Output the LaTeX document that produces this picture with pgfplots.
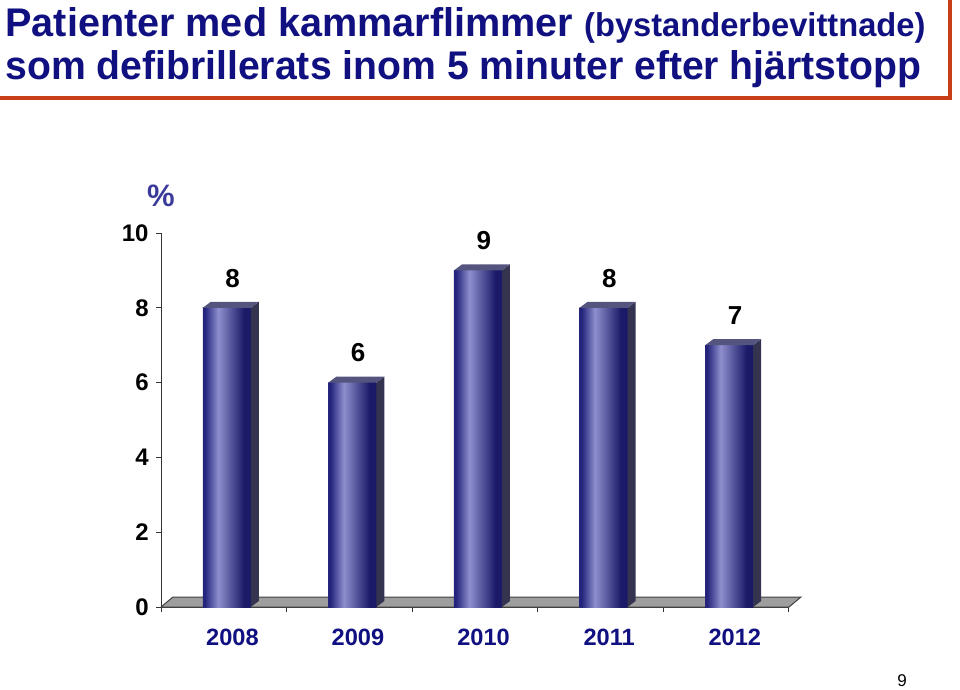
\documentclass[border=0pt]{standalone}
\usepackage{pgfplots}
\pgfplotsset{compat=1.18}
\usepackage{pgfplotstable}
\usepackage{fontspec}
\setmainfont{Liberation Sans}
\usepackage{graphicx}
\definecolor{titleblue}{RGB}{16,16,128}
\definecolor{pctblue}{RGB}{58,58,155}
\definecolor{framered}{RGB}{200,62,22}
\definecolor{barL}{RGB}{36,36,124}
\definecolor{barM}{RGB}{142,142,206}
\definecolor{barR}{RGB}{26,26,104}
\definecolor{sidec}{RGB}{52,52,80}
\definecolor{topc}{RGB}{84,84,126}
\definecolor{floorc}{RGB}{158,158,158}
\pgfdeclarehorizontalshading{barshade}{100bp}{color(0bp)=(barL); color(25bp)=(barL); color(27bp)=(barL); color(41bp)=(barM); color(68bp)=(barR); color(100bp)=(barR)}
\pgfdeclareplotmark{box3d}{%
  \pgfmathsetlengthmacro\hh{\rawy*18.7}%
  \pgfpathmoveto{\pgfqpoint{13.5pt}{0pt}}%
  \pgfpathlineto{\pgfqpoint{17.5pt}{3pt}}%
  \pgfpathlineto{\pgfpoint{17.5pt}{3pt-\hh}}%
  \pgfpathlineto{\pgfpoint{13.5pt}{-\hh}}%
  \pgfpathclose
  \pgfsetfillcolor{sidec}\pgfusepath{fill}%
  \pgfpathmoveto{\pgfqpoint{-10.5pt}{0pt}}%
  \pgfpathlineto{\pgfqpoint{13.5pt}{0pt}}%
  \pgfpathlineto{\pgfqpoint{17.5pt}{3pt}}%
  \pgfpathlineto{\pgfqpoint{-6.5pt}{3pt}}%
  \pgfpathclose
  \pgfsetfillcolor{topc}\pgfusepath{fill}%
}
\pgfplotstableread{
x v
0 8
1 6
2 9
3 8
4 7
}\data
\begin{document}
\begin{tikzpicture}
\path[use as bounding box] (0pt,0pt) rectangle (480pt,-345pt);
% title
\node[anchor=base west, inner sep=0, text=titleblue] at (2.5pt,-18.5pt)
  {\resizebox{460pt}{\height}{\fontsize{20}{24}\selectfont\bfseries Patienter med kammarflimmer {\fontsize{16.5}{20}\selectfont(bystanderbevittnade)}}};
\node[anchor=base west, inner sep=0, text=titleblue] at (2.5pt,-40pt)
  {\resizebox{458pt}{\height}{\fontsize{20}{24}\selectfont\bfseries som defibrillerats inom 5 minuter efter hjärtstopp}};
\draw[framered, line width=2pt, line join=miter] (0pt,-49.25pt) -- (475pt,-49.25pt) -- (475pt,0pt);
\node[text=pctblue, font=\fontsize{15.5}{18}\selectfont\bfseries, inner sep=0] at (80.5pt,-98pt) {\%};
\node[font=\fontsize{8.5}{10}\selectfont, inner sep=0] at (451pt,-340.5pt) {9};
\begin{axis}[
  at={(80.5pt,-303.5pt)}, anchor=south west,
  scale only axis, width=314pt, height=187pt,
  xmin=-0.5, xmax=4.5, ymin=0, ymax=10,
  axis lines*=left,
  axis line style={black!80, line width=0.5pt},
  clip=false,
  /pgf/number format/assume math mode=true,
  ytick={0,2,4,6,8,10},
  xtick={-0.5,0.5,1.5,2.5,3.5,4.5}, xticklabels={},
  extra x ticks={0,1,2,3,4},
  extra x tick labels={2008,2009,2010,2011,2012},
  extra x tick style={major tick length=0pt,
    tick label style={inner sep=0pt, anchor=north, yshift=-11pt, xshift=4.3pt, text=titleblue,
      font=\fontsize{11.8}{14}\selectfont\bfseries}},
  tick align=outside, major tick length=2.5pt,
  tick style={black!80, line width=0.5pt},
  yticklabel style={font=\fontsize{12}{14}\selectfont\bfseries, inner sep=0pt, xshift=-3.5pt},
  bar style/.style={ybar, bar width=24pt, bar shift=1.5pt, shading=barshade, draw=none,
    nodes near coords,
    nodes near coords style={font=\fontsize{13}{15}\selectfont\bfseries, text=black, anchor=south, inner sep=0pt, yshift=10pt, xshift=4.4pt}},
]
\addplot[fill=floorc, draw=black!75, line width=0.5pt] coordinates {(-0.5,0) (4.5,0) (4.5955,0.267) (-0.4045,0.267) (-0.5,0)};
\addplot[bar style, restrict x to domain=-0.5:0.5] table[x=x, y=v] {\data};
\addplot[bar style, restrict x to domain=0.5:1.5] table[x=x, y=v] {\data};
\addplot[bar style, restrict x to domain=1.5:2.5] table[x=x, y=v] {\data};
\addplot[bar style, restrict x to domain=2.5:3.5] table[x=x, y=v] {\data};
\addplot[bar style, restrict x to domain=3.5:4.5] table[x=x, y=v] {\data};
\addplot[scatter, only marks, mark=box3d, visualization depends on={\thisrow{v} \as \rawy}]
  table[x=x, y=v] {\data};
\end{axis}
\end{tikzpicture}
\end{document}
